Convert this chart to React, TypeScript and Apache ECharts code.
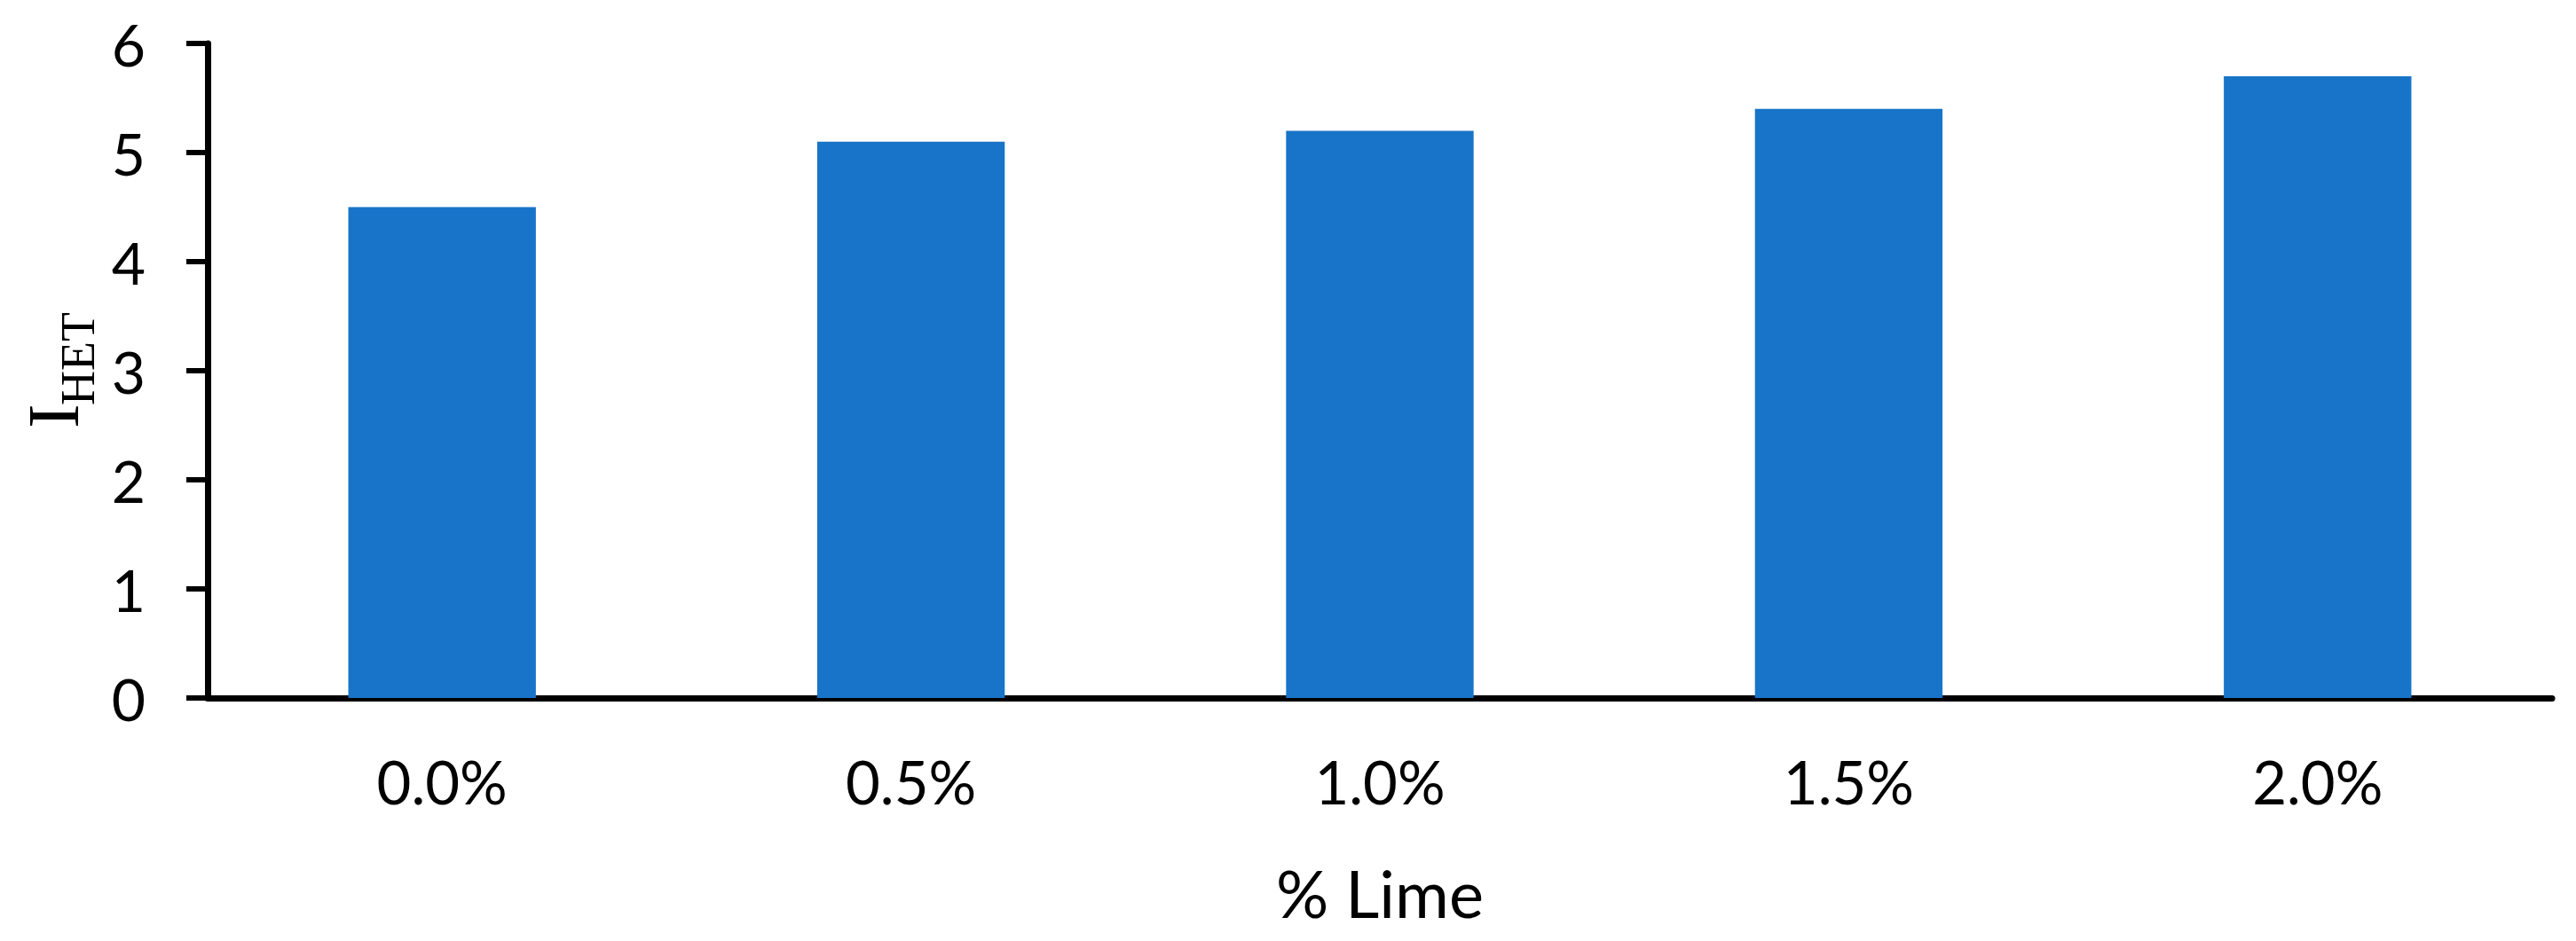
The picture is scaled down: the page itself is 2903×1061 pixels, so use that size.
import React, { useEffect, useRef } from "react";
import * as echarts from "echarts";

const categories = ["0.0%", "0.5%", "1.0%", "1.5%", "2.0%"];
const values = [4.5, 5.1, 5.2, 5.4, 5.7];
const yTicks = [0, 1, 2, 3, 4, 5, 6];
const xName = "% Lime";
const yNameMain = "I";
const yNameSub = "HET";

export default function App() {
  const ref = useRef<HTMLDivElement>(null);
  useEffect(() => {
    const chart = echarts.init(ref.current!, null, { renderer: "svg" });
    const font = "Lato";
    chart.setOption({
      animation: false,
      backgroundColor: "#ffffff",
      grid: { left: 234, right: 27, top: 49, bottom: 274, containLabel: false },
      xAxis: {
        type: "category",
        data: categories,
        name: xName,
        nameLocation: "middle",
        nameGap: 182,
        nameTextStyle: { fontFamily: font, fontSize: 74, color: "#000" },
        axisLine: { lineStyle: { color: "#000", width: 7 } },
        axisTick: { show: false },
        axisLabel: { fontFamily: font, fontSize: 67, color: "#000", margin: 60 },
      },
      yAxis: {
        type: "value",
        min: yTicks[0],
        max: yTicks[yTicks.length - 1],
        interval: 1,
        axisLine: { show: true, lineStyle: { color: "#000", width: 7 } },
        axisTick: { show: true, length: 24, lineStyle: { color: "#000", width: 6 } },
        splitLine: { show: false },
        axisLabel: { fontFamily: font, fontSize: 66, color: "#000", margin: 70 },
      },
      graphic: [
        {
          type: "group",
          x: 83,
          y: 483,
          rotation: Math.PI / 2,
          children: [
            {
              type: "text",
              x: 0,
              y: 18,
              style: {
                text: yNameMain,
                fontFamily: "Liberation Serif",
                fontSize: 83,
                fill: "#000",
                textAlign: "left",
                textVerticalAlign: "bottom",
              },
            },
            {
              type: "text",
              x: 26,
              y: 32,
              style: {
                text: yNameSub,
                fontFamily: "Liberation Serif",
                fontSize: 54,
                fill: "#000",
                textAlign: "left",
                textVerticalAlign: "bottom",
              },
            },
          ],
        },
      ],
      series: [
        {
          type: "bar",
          data: values,
          barCategoryGap: "60%",
          itemStyle: { color: "#1874C8" },
        },
      ],
    });
    return () => chart.dispose();
  }, []);
  return (
    <div
      ref={ref}
      style={{ position: "fixed", left: 0, top: 0, width: 2903, height: 1061 }}
    />
  );
}
